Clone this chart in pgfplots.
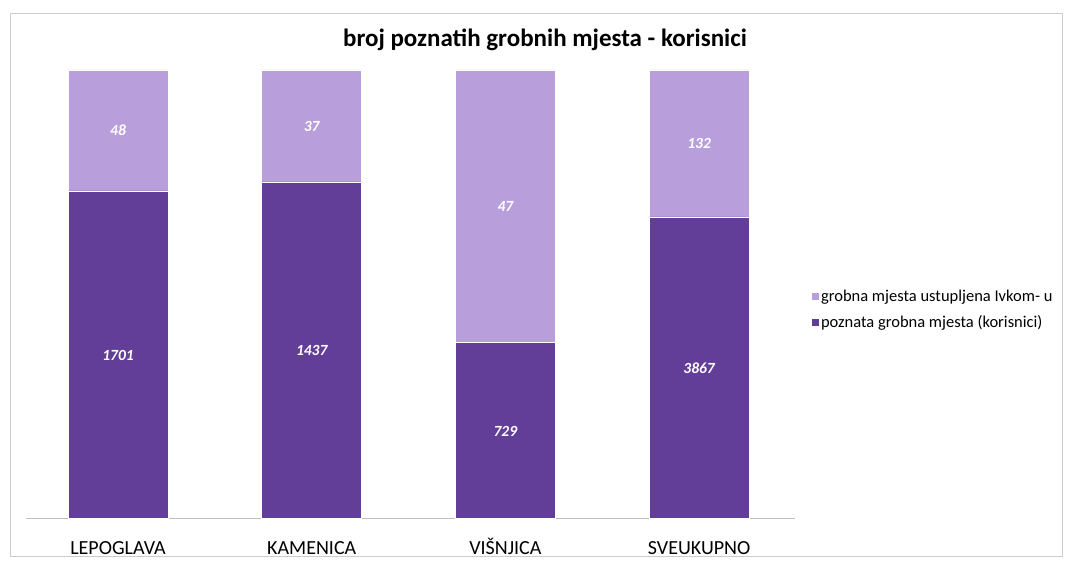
\documentclass[border=0pt]{standalone}
\usepackage{pgfplots}
\pgfplotsset{compat=1.18}
\usepackage{pgfplotstable}
\usepackage{fontspec}
\setmainfont{Carlito}
\definecolor{darkp}{RGB}{99,62,152}
\definecolor{lightp}{RGB}{184,158,219}
\pgfplotstableread{
x dark light darkmid lightmid darklab lightlab
0 73.0 27.0 36.2 86.5 1701 48
1 75.0 25.0 37.3 87.5 1437 37
2 39.1 60.9 19.3 69.55 729 47
3 67.2 32.8 33.4 83.6 3867 132
}\data
\begin{document}
\begin{tikzpicture}
\useasboundingbox (0,0) rectangle (1066pt,560pt);
\draw[black!20, line width=1pt] (10pt,4pt) rectangle (1062pt,546pt);
\node[font=\bfseries\fontsize{25}{30}\selectfont] at (545pt,520pt) {broj poznatih grobnih mjesta - korisnici};
\begin{axis}[
  at={(26pt,42pt)}, anchor=south west,
  scale only axis, width=769pt, height=448pt,
  ybar stacked, bar width=100pt,
  xmin=-0.475, xmax=3.495, ymin=0, ymax=100,
  axis x line*=bottom, axis y line=none,
  x axis line style={black!25, line width=1pt, -},
  xtick=data, xticklabels={LEPOGLAVA,KAMENICA,VIŠNJICA,SVEUKUPNO},
  major tick length=0pt,
  xticklabel style={font=\fontsize{20}{24}\selectfont, anchor=base, yshift=-36pt},
  legend style={at={(1.018,0.465)}, anchor=west, draw=none, font=\fontsize{16.5}{19}\selectfont, row sep=9pt, cells={anchor=west}},
  legend image code/.code={\fill[#1,draw=none] (0pt,-3.5pt) rectangle (7pt,3.5pt);},
  reverse legend,
]
\addplot[fill=darkp, draw=white, line width=0.8pt] table[x=x, y=dark] {\data};
\addlegendentry{poznata grobna mjesta (korisnici)}
\addplot[fill=lightp, draw=white, line width=0.8pt] table[x=x, y=light] {\data};
\addlegendentry{grobna mjesta ustupljena Ivkom- u}
\end{axis}
\begin{axis}[
  at={(26pt,42pt)}, anchor=south west,
  scale only axis, width=769pt, height=448pt,
  xmin=-0.475, xmax=3.495, ymin=0, ymax=100,
  hide axis,
  nodes near coords, point meta=explicit symbolic,
  every node near coord/.append style={anchor=center, text=white, font=\bfseries\itshape\fontsize{15.5}{18}\selectfont},
]
\addplot[only marks, mark=none] table[x=x, y=darkmid, meta=darklab] {\data};
\addplot[only marks, mark=none] table[x=x, y=lightmid, meta=lightlab] {\data};
\end{axis}
\end{tikzpicture}
\end{document}
